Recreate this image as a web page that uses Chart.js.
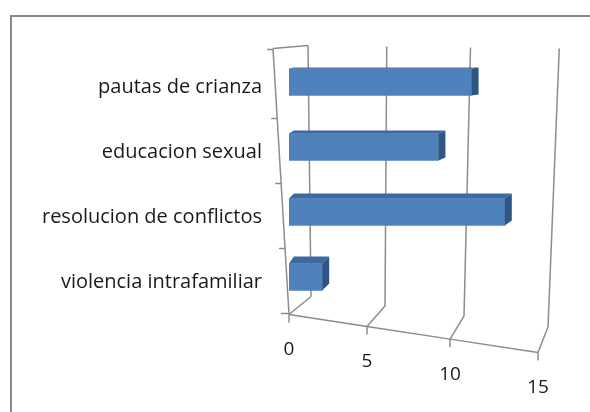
<!DOCTYPE html>
<html>
<head>
<meta charset="utf-8">
<script src="https://cdn.jsdelivr.net/npm/chart.js@4"></script>
<style>
  html, body { margin: 0; padding: 0; background: #fff; overflow: hidden; }
  #wrap { position: relative; width: 590px; height: 412px; }
  #frame { position: absolute; left: 10px; top: 15px; width: 620px; height: 440px; border: 2px solid #8a8a8a; box-sizing: border-box; }
  canvas { position: absolute; left: 0; top: 0; }
</style>
</head>
<body>
<div id="wrap">
  <div id="frame"></div>
  <canvas id="c" width="590" height="412"></canvas>
</div>
<script>
const categories = ["pautas de crianza", "educacion sexual", "resolucion de conflictos", "violencia intrafamiliar"];
const values = [11, 9, 13, 2];
const xTicks = [0, 5, 10, 15];

const FONT = "'Open Sans', sans-serif";
const GRID = '#8c8c8c';

const frame3d = {
  id: 'frame3d',
  beforeDatasetsDraw(chart) {
    const ctx = chart.ctx;
    const xs = chart.scales.x, ys = chart.scales.y;
    const x0 = xs.getPixelForValue(0);
    const B = ys.bottom;
    const front = v => {
      const x = xs.getPixelForValue(v) - 0.1 * v * (15 - v);
      return [x, B + 5 + 0.153 * (x - x0)];
    };
    const backB = v => { const f = front(v); return [f[0] + 22 - 0.8 * v, f[1] - (18 + 0.5 * v)]; };
    const backT = v => { const b = backB(v); return [b[0] - 3 + 0.95 * v, ys.top - 4 + 0.2 * v]; };
    ctx.save();
    ctx.strokeStyle = GRID;
    ctx.lineWidth = 1.5;
    const line = (a, b) => { ctx.beginPath(); ctx.moveTo(a[0], a[1]); ctx.lineTo(b[0], b[1]); ctx.stroke(); };
    xTicks.forEach(v => {
      line(backB(v), backT(v));
      line(front(v), backB(v));
      const f = front(v);
      line(f, [f[0], f[1] + 8]);
    });
    // front floor edge
    ctx.beginPath();
    xTicks.forEach((v, i) => { const f = front(v); if (i === 0) ctx.moveTo(f[0], f[1]); else ctx.lineTo(f[0], f[1]); });
    ctx.stroke();
    // left axis (front plane)
    const fTop = [x0 - 16, ys.top - 1];
    const fBot = front(0);
    line(fTop, fBot);
    // top edge of left wall
    line(fTop, backT(0));
    // left axis ticks at category boundaries
    const n = categories.length;
    for (let k = 0; k <= n; k++) {
      const yb = ys.top + (ys.bottom - ys.top) * k / n + 4 * (k > 0 ? 1 : 0);
      const t = (yb - fTop[1]) / (fBot[1] - fTop[1]);
      const xb = fTop[0] + t * (fBot[0] - fTop[0]);
      line([xb - (k === n ? 8 : 6), yb], [xb, yb]);
    }
    // x tick labels along the slanted front edge
    ctx.fillStyle = '#1a1a1a';
    ctx.font = "19px " + FONT;
    ctx.textAlign = 'center';
    ctx.textBaseline = 'middle';
    xTicks.forEach(v => {
      const f = front(v);
      ctx.fillText(String(v), f[0], f[1] + 35);
    });
    ctx.restore();
  },
  afterDatasetsDraw(chart) {
    const ctx = chart.ctx;
    const meta = chart.getDatasetMeta(0);
    ctx.save();
    meta.data.forEach(bar => {
      const p = bar.getProps(['x', 'y', 'base', 'height'], true);
      const top = p.y - p.height / 2, bot = p.y + p.height / 2;
      const dx = 7, dy = -(p.y - 45) / 33;
      // top face
      ctx.fillStyle = '#3d69a0';
      ctx.beginPath();
      ctx.moveTo(p.base, top);
      ctx.lineTo(p.x, top);
      ctx.lineTo(p.x + dx, top + dy);
      ctx.lineTo(p.base + dx * 0.7, top + dy);
      ctx.closePath();
      ctx.fill();
      // side face
      ctx.fillStyle = '#2f5585';
      ctx.beginPath();
      ctx.moveTo(p.x, top);
      ctx.lineTo(p.x + dx, top + dy);
      ctx.lineTo(p.x + dx, bot + dy);
      ctx.lineTo(p.x, bot);
      ctx.closePath();
      ctx.fill();
    });
    ctx.restore();
  }
};

new Chart(document.getElementById('c'), {
  type: 'bar',
  data: {
    labels: categories,
    datasets: [{
      data: values,
      backgroundColor: '#4f81bd',
      borderWidth: 0,
      barThickness: 27
    }]
  },
  options: {
    indexAxis: 'y',
    responsive: false,
    animation: false,
    layout: { padding: { top: 49.5, right: 52, bottom: 102.5, left: 0 } },
    plugins: { legend: { display: false }, tooltip: { enabled: false }, title: { display: false } },
    scales: {
      x: { display: false, min: 0, max: 15 },
      y: {
        afterFit(s) { s.width = 289; },
        grid: { display: false, drawTicks: false },
        border: { display: false },
        ticks: {
          color: '#1a1a1a',
          font: { family: FONT, size: 20 },
          padding: 27,
          labelOffset: 5
        }
      }
    }
  },
  plugins: [frame3d]
});
</script>
</body>
</html>
